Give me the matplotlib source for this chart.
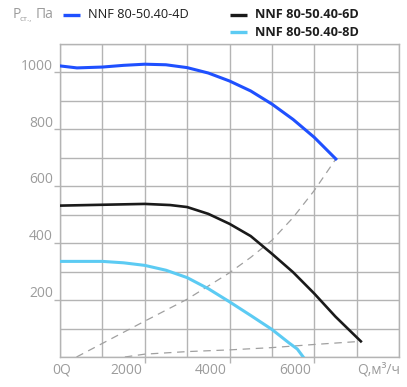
import matplotlib

matplotlib.use("Agg")
import matplotlib.pyplot as plt

plt.rcParams["font.family"] = ["Open Sans", "DejaVu Sans"]

# Fan curves (Q in m3/h, P in Pa)
q_4d = [0, 400, 1000, 1500, 2000, 2500, 3000, 3500, 4000, 4500, 5000, 5500, 6000, 6510]
p_4d = [1023, 1016, 1019, 1025, 1029, 1027, 1017, 998, 970, 935, 889, 835, 772, 696]

q_6d = [0, 1000, 2000, 2600, 3000, 3500, 4000, 4500, 5000, 5500, 6000, 6500, 7100]
p_6d = [532, 535, 538, 534, 527, 503, 468, 425, 363, 298, 223, 142, 55]

q_8d = [0, 1000, 1500, 2000, 2500, 3000, 3500, 4000, 4500, 5000, 5400, 5600, 5740]
p_8d = [336, 336, 331, 322, 305, 279, 240, 194, 146, 97, 50, 28, 0]

# system (network) curves, dashed
q_sys_hi = [390, 2000, 3000, 4000, 4500, 5000, 5500, 6000, 6510]
p_sys_hi = [0, 126, 203, 296, 350, 410, 490, 585, 696]
q_sys_lo = [1530, 2000, 3000, 4000, 5000, 6000, 7100]
p_sys_lo = [0, 10, 19, 25, 33, 44, 55]

series = [
    ("NNF 80-50.40-4D", q_4d, p_4d, "#1f50ff", 2.2),
    ("NNF 80-50.40-6D", q_6d, p_6d, "#1a1a1a", 1.9),
    ("NNF 80-50.40-8D", q_8d, p_8d, "#5ccbf3", 2.2),
]

x_labels = [2000, 4000, 6000]
y_labels = [200, 400, 600, 800, 1000]

GRID = "#b4b4b4"
TXT = "#9c9c9c"

fig = plt.figure(figsize=(4.07, 3.87), dpi=100)
ax = fig.add_axes([60 / 407, 30 / 387, 339 / 407, 313 / 387])

ax.plot(q_sys_hi, p_sys_hi, color="#a0a0a0", lw=0.9, ls=(0, (6, 4.5)), zorder=2)
ax.plot(q_sys_lo, p_sys_lo, color="#a0a0a0", lw=0.9, ls=(0, (6, 4.5)), zorder=2)
for name, q, p, color, lw in series:
    ax.plot(q, p, color=color, lw=lw, solid_joinstyle="round", zorder=3)

ax.set_xlim(0, 8000)
ax.set_ylim(0, 1100)
ax.set_xticks(x_labels)
ax.set_yticks(y_labels)
ax.set_xticks(range(0, 8001, 1000), minor=True)
ax.set_yticks(range(0, 1101, 100), minor=True)
ax.set_xticklabels([])
ax.set_yticklabels([])
ax.tick_params(which="major", direction="out", color=GRID, width=1, length=4.3)
ax.tick_params(which="minor", length=0)
ax.grid(True, which="both", color=GRID, lw=1)
ax.set_axisbelow(True)
for s in ax.spines.values():
    s.set_color(GRID)
    s.set_linewidth(1)

for v in y_labels:
    ax.annotate(str(v), (0, v), xytext=(-5, 2), textcoords="offset points",
                ha="right", va="baseline", fontsize=10, color=TXT)
for v in x_labels:
    ax.annotate(str(v), (v, 0), xytext=(-2, -4), textcoords="offset points",
                ha="right", va="top", fontsize=10, color=TXT)
ax.annotate("0Q", (0, 0), xytext=(1, -4), textcoords="offset points",
            ha="center", va="top", fontsize=10, color=TXT)
ax.annotate("Q,м³/ч", (8000, 0), xytext=(1, -4), textcoords="offset points",
            ha="right", va="top", fontsize=10, color=TXT)

# header: axis title and legend
W, H = 407, 387
fig.text(13 / W, 1 - 15 / H, "Р", fontsize=10, color=TXT, va="center")
fig.text(20 / W, 1 - 19 / H, "ст.,", fontsize=6, color=TXT, va="center")
fig.text(36 / W, 1 - 15 / H, "Па", fontsize=10, color=TXT, va="center")

legend_pos = [(63, 88, 15, "normal"), (230, 255, 15, "bold"), (230, 255, 32, "bold")]
for (name, q, p, color, lw), (lx, tx, ly, wt) in zip(series, legend_pos):
    fig.add_artist(plt.Line2D([lx / W, (lx + 17) / W], [1 - ly / H, 1 - ly / H],
                              color=color, lw=2.4, solid_capstyle="butt",
                              transform=fig.transFigure))
    fig.text(tx / W, 1 - ly / H, name, fontsize=9.2, color="#1e1e1e",
             fontweight=wt, va="center")

fig.savefig("out.png", dpi=100)
